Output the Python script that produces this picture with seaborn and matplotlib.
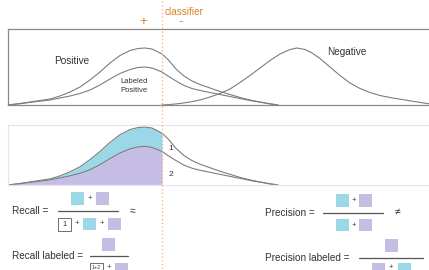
import numpy as np
import pandas as pd
import matplotlib
matplotlib.use("Agg")
import matplotlib.pyplot as plt
from matplotlib.patches import Rectangle
import seaborn as sns

# ---------------- data ----------------
pos_score = [8, 20, 30, 40, 50, 60, 70, 80, 90, 100, 110, 120, 130, 138, 145,
             152, 162, 168, 176, 184, 192, 200, 210, 220, 230, 240, 250, 260, 270, 278]
positive = [0, 1.5, 3, 4.5, 6, 9, 13, 18, 25, 33, 42, 49.5, 54.5, 56.5, 57,
            56, 51, 45.5, 36, 29, 24, 20.5, 17, 13.5, 10.5, 7.5, 5, 3, 1.2, 0]
labeled_positive = [0, 1.3, 2.6, 3.8, 5, 7, 9, 11.5, 15, 20, 26, 31.5, 35.5, 37.5, 38,
                    37, 33, 29, 24, 19.5, 16.5, 14.5, 12.5, 10.5, 8.5, 6.5, 4.5, 2.8, 1.1, 0]
neg_score = [162, 170, 180, 190, 200, 210, 220, 230, 240, 250, 260, 270, 280, 290, 297,
             305, 312, 320, 330, 340, 350, 360, 370, 380, 390, 400, 410, 420, 429]
negative = [0, 0.5, 1.5, 3, 5, 8, 11.5, 16, 22.5, 29.5, 37, 44.5, 51, 55.5, 57,
            55.5, 52, 46.5, 38, 29.5, 22, 16.5, 12.5, 9.5, 7.5, 5.8, 4.2, 2.6, 1.2]
classifier = 162

CYAN = "#9ad8e7"
LAV = "#c6bde5"
ORANGE = "#d9822b"
CURVE = "#7d7d7d"
TXT = "#333333"

sns.set_theme(style="white")
plt.rcParams["font.family"] = ["Liberation Sans", "DejaVu Sans"]

W, H = 429, 270
fig = plt.figure(figsize=(W / 100, H / 100), dpi=100)

# ---------------- top panel ----------------
ax1 = fig.add_axes([8 / W, (H - 105) / H, (W - 8) / W, 76 / H])
sns.lineplot(x=pos_score, y=positive, ax=ax1, color=CURVE, lw=0.8, sort=False)
sns.lineplot(x=pos_score, y=labeled_positive, ax=ax1, color=CURVE, lw=0.8, sort=False)
sns.lineplot(x=neg_score, y=negative, ax=ax1, color=CURVE, lw=0.8, sort=False)
ax1.set_xlim(8, W)
ax1.set_ylim(0, 76)
for s in ["left", "top", "bottom"]:
    ax1.spines[s].set_color("#8a8a8a")
    ax1.spines[s].set_linewidth(0.9)
ax1.spines["right"].set_visible(False)
ax1.set_xticks([]); ax1.set_yticks([])
ax1.set_xlabel(""); ax1.set_ylabel("")

# ---------------- bottom panel ----------------
ax2 = fig.add_axes([8 / W, (H - 185) / H, (W - 8) / W, 60 / H])
px = np.array(pos_score, dtype=float)
pp = np.array(positive, dtype=float)
pl = np.array(labeled_positive, dtype=float)
m = px <= classifier
ax2.fill_between(px[m], pl[m], pp[m], color=CYAN, lw=0)
ax2.fill_between(px[m], 0, pl[m], color=LAV, lw=0)
sns.lineplot(x=pos_score, y=positive, ax=ax2, color=CURVE, lw=0.8, sort=False)
sns.lineplot(x=pos_score, y=labeled_positive, ax=ax2, color=CURVE, lw=0.8, sort=False)
ax2.set_xlim(8, W)
ax2.set_ylim(0, 59)
for s in ["left", "top", "bottom"]:
    ax2.spines[s].set_color("#e9e1f2")
    ax2.spines[s].set_linewidth(0.9)
ax2.spines["right"].set_visible(False)
ax2.set_xticks([]); ax2.set_yticks([])
ax2.set_xlabel(""); ax2.set_ylabel("")

# ---------------- overlay (annotations, pixel layout) ----------------
ov = fig.add_axes([0, 0, 1, 1])
ov.set_xlim(0, W)
ov.set_ylim(H, 0)
ov.axis("off")
ov.patch.set_alpha(0)

ov.plot([classifier - 0.5, classifier - 0.5], [1, H], ls=(0, (1, 2)), color="#eeb07a", lw=0.9)
ov.text(165, 12, "classifier", color=ORANGE, fontsize=7.2, ha="left", va="center")
ov.text(143, 22, "+", color=ORANGE, fontsize=9.5, ha="center", va="center")
ov.text(181, 22, "-", color=ORANGE, fontsize=9.5, ha="center", va="center")

ov.text(72, 61, "Positive", color=TXT, fontsize=7.2, ha="center", va="center")
ov.text(347, 52, "Negative", color=TXT, fontsize=7.2, ha="center", va="center")
ov.text(134, 86, "Labeled\nPositive", color=TXT, fontsize=5.5, ha="center", va="center",
        linespacing=1.3)
ov.text(171, 148, "1", color=TXT, fontsize=6, ha="center", va="center")
ov.text(171, 174, "2", color=TXT, fontsize=6, ha="center", va="center")

S = 12.5


def sq(x, y, c):
    ov.add_patch(Rectangle((x, y), S, S, facecolor=c, edgecolor="none"))


def box(x, y, label, fs, ty=None):
    ov.add_patch(Rectangle((x, y), S, S, facecolor="white", edgecolor="#6f6f6f", lw=0.7))
    ov.text(x + S / 2, y + S / 2 + 0.5 if ty is None else ty, label, color=TXT,
            fontsize=fs, ha="center", va="center")


def plus(x, y):
    ov.text(x, y, "+", color=TXT, fontsize=5.5, ha="center", va="center")


def frac(x0, x1, y):
    ov.plot([x0, x1], [y, y], color="#555555", lw=0.9)


# Recall
ov.text(12, 211, "Recall =", color=TXT, fontsize=7.2, ha="left", va="center")
frac(58, 118, 210.5)
sq(71, 192, CYAN); plus(89.5, 198.5); sq(96, 192, LAV)
box(58, 218, "1", 5.5); plus(77, 224); sq(83, 217.5, CYAN); plus(102, 224); sq(108, 217.5, LAV)
ov.text(133, 211, "≈", color=TXT, fontsize=7.5, ha="center", va="center")

# Recall labeled
ov.text(12, 256, "Recall labeled =", color=TXT, fontsize=7.2, ha="left", va="center")
frac(90, 128, 256)
sq(102, 238, LAV)
box(90, 263, "1+2", 3.8, ty=267.3); plus(109, 267); sq(115, 263, LAV)

# Precision
ov.text(265, 213, "Precision =", color=TXT, fontsize=7.2, ha="left", va="center")
frac(323, 383, 213)
sq(336, 194, CYAN); plus(354, 200.5); sq(359, 194, LAV)
sq(336, 218.5, CYAN); plus(354, 225); sq(359, 218.5, LAV)
ov.text(398, 212, "≠", color=TXT, fontsize=7.5, ha="center", va="center")

# Precision labeled
ov.text(265, 258, "Precision labeled =", color=TXT, fontsize=7.2, ha="left", va="center")
frac(359, 423, 258)
sq(385, 239, LAV)
sq(372, 263, LAV); plus(391, 267); sq(398, 263, CYAN)

fig.savefig("out.png", dpi=100)
